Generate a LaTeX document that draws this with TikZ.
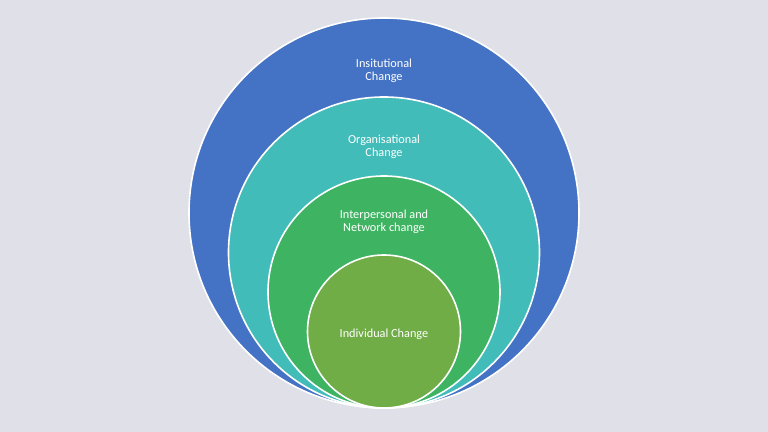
\documentclass[tikz,border=0pt]{standalone}
\usepackage{fontspec}
\setmainfont{Carlito}
\usepackage{xcolor}
\usetikzlibrary{positioning}
\definecolor{backgray}{RGB}{224,225,232}
\definecolor{ringblue}{RGB}{68,114,196}
\definecolor{ringteal}{RGB}{65,188,184}
\definecolor{ringgreen}{RGB}{62,180,98}
\definecolor{ringlime}{RGB}{112,173,71}
\tikzset{
  ring/.style={
    circle, draw=white, line width=1.2pt, inner sep=0pt, outer sep=0pt
  },
  ringtext/.style={
    align=center, text=white, inner sep=0pt,
    font=\fontsize{9.2}{9.9}\selectfont
  }
}
\begin{document}
\begin{tikzpicture}[x=0.75pt, y=0.75pt]
  \fill[backgray] (0,0) rectangle (768,432);
  \useasboundingbox (0,0) rectangle (768,432);

  % nested circles, all touching at the bottom
  \node[ring, fill=ringblue,  minimum size=292.5pt]  (inst) at (384,219)   {};
  \node[ring, fill=ringteal,  minimum size=233.25pt] (org)  at (384,179.5) {};
  \node[ring, fill=ringgreen, minimum size=174pt]    (net)  at (384,140)   {};
  \node[ring, fill=ringlime,  minimum size=114.75pt] (ind)  at (384,100.5) {};

  \node[ringtext] (insttext) at (384,361.5) {Insitutional\\Change};
  \node[ringtext] (orgtext)  at (384,285.5) {Organisational\\Change};
  \node[ringtext] (nettext)  at (384,210.5) {Interpersonal and\\Network change};
  \node[ringtext] (indtext)  at (384,98)    {Individual Change};
\end{tikzpicture}
\end{document}
